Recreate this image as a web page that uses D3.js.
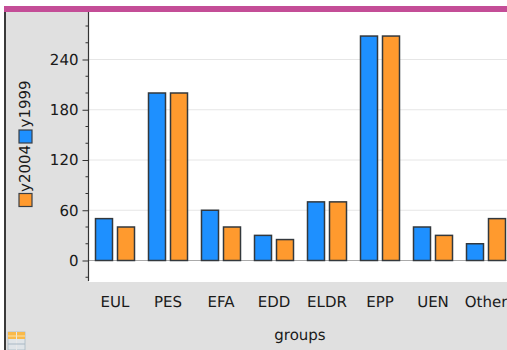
<!DOCTYPE html>
<html><head><meta charset="utf-8">
<script src="https://cdnjs.cloudflare.com/ajax/libs/d3/7.8.5/d3.min.js"></script>
<style>html,body{margin:0;padding:0;background:#fff}svg{display:block}text{font-family:"DejaVu Sans",sans-serif;fill:#1a1a1a;text-rendering:geometricPrecision}</style>
</head><body><div id="c"></div>
<script>
const groups = ["EUL","PES","EFA","EDD","ELDR","EPP","UEN","Other"];
const y1999 = [50,200,60,30,70,268,40,20];
const y2004 = [40,200,40,25,70,268,30,50];
const majorTicks = [0,60,120,180,240];
const minorTicks = [-20,20,40,80,100,140,160,200,220,260,280];
const W=507,H=350,L=89,R=507,T=12,B=282;
const svg=d3.select("#c").append("svg").attr("width",W).attr("height",H);
svg.append("rect").attr("x",6).attr("y",12).attr("width",W-6).attr("height",H-12).attr("fill","#e0e0e0");
svg.append("rect").attr("x",L).attr("y",T).attr("width",R-L).attr("height",B-T).attr("fill","#fff");
svg.append("rect").attr("x",4).attr("y",6).attr("width",2).attr("height",H-6).attr("fill","#3a3a3a");
svg.append("rect").attr("x",4).attr("y",6).attr("width",W-4).attr("height",6).attr("fill","#c44d97");
const y=d3.scaleLinear().domain([0,240]).range([260.5,59.5]);
const x=d3.scaleBand().domain(groups).range([88.5,512.5]).padding(0);
const barW=18,gap=4;
const colors={y1999:"#1e90ff",y2004:"#ff9a2e"};
svg.append("g").selectAll("line").data(majorTicks.filter(d=>d>0)).join("line")
 .attr("x1",L).attr("x2",R).attr("y1",d=>y(d)).attr("y2",d=>y(d)).attr("stroke","#e6e6e6");
const offset=d=>x(d)+x.bandwidth()/2-barW-gap/2;
const drawBars=(vals,dx,col)=>svg.append("g").selectAll("rect").data(groups).join("rect")
 .attr("x",d=>offset(d)+dx+0.5).attr("y",(d,i)=>y(vals[i])).attr("width",barW-1)
 .attr("height",(d,i)=>y(0)-y(vals[i])).attr("fill",col).attr("stroke","#33383d").attr("stroke-width",1.5);
svg.append("line").attr("x1",L).attr("x2",R).attr("y1",y(0)).attr("y2",y(0)).attr("stroke","#aaa");
drawBars(y1999,0,colors.y1999);
drawBars(y2004,barW+gap,colors.y2004);
// axis
const ax=svg.append("g").attr("transform","translate(88.5,0)")
 .call(d3.axisLeft(y).tickValues(majorTicks).tickSize(6).tickPadding(4).tickFormat(d3.format("d")));
ax.select(".domain").remove();
ax.selectAll("line").attr("stroke","#333");
ax.selectAll("text").attr("font-size",15).attr("font-family","DejaVu Sans").attr("fill","#1a1a1a");
svg.append("line").attr("x1",88.5).attr("x2",88.5).attr("y1",T).attr("y2",B-1).attr("stroke","#333").attr("stroke-width",1.2);
svg.append("g").selectAll("line").data(minorTicks).join("line")
 .attr("x1",85.5).attr("x2",88.5).attr("y1",d=>y(d)).attr("y2",d=>y(d)).attr("stroke","#333");
svg.append("g").selectAll("text").data(groups).join("text")
 .attr("x",d=>x(d)+x.bandwidth()/2).attr("y",307).attr("text-anchor","middle").attr("font-size",15).text(d=>d);
svg.append("text").attr("x",300).attr("y",340).attr("text-anchor","middle").attr("font-size",15).text("groups");
// legend
const legend=[["y2004",colors.y2004,193.5,192],["y1999",colors.y1999,130,127.5]];
legend.forEach(([n,c,p,t])=>{
 svg.append("rect").attr("x",19).attr("y",p).attr("width",13).attr("height",13).attr("fill",c).attr("stroke","#3a3f45").attr("stroke-width",1.2);
 svg.append("text").attr("transform",`translate(30,${t}) rotate(-90)`).attr("font-size",15).text(n);
});
// table icon
const ic=svg.append("g").attr("transform","translate(8,332)");
ic.append("rect").attr("width",17).attr("height",18).attr("fill","#dfe4e8").attr("stroke","#a9b8c4").attr("stroke-width",0.8);
ic.append("rect").attr("width",17).attr("height",7).attr("fill","#f9b94a");
ic.append("line").attr("x1",8.5).attr("x2",8.5).attr("y1",0).attr("y2",18).attr("stroke","#e8e8e8");
ic.append("line").attr("x1",0).attr("x2",17).attr("y1",4).attr("y2",4).attr("stroke","#fde3a8");
ic.append("line").attr("x1",0).attr("x2",17).attr("y1",12).attr("y2",12).attr("stroke","#a9b8c4");
</script></body></html>
